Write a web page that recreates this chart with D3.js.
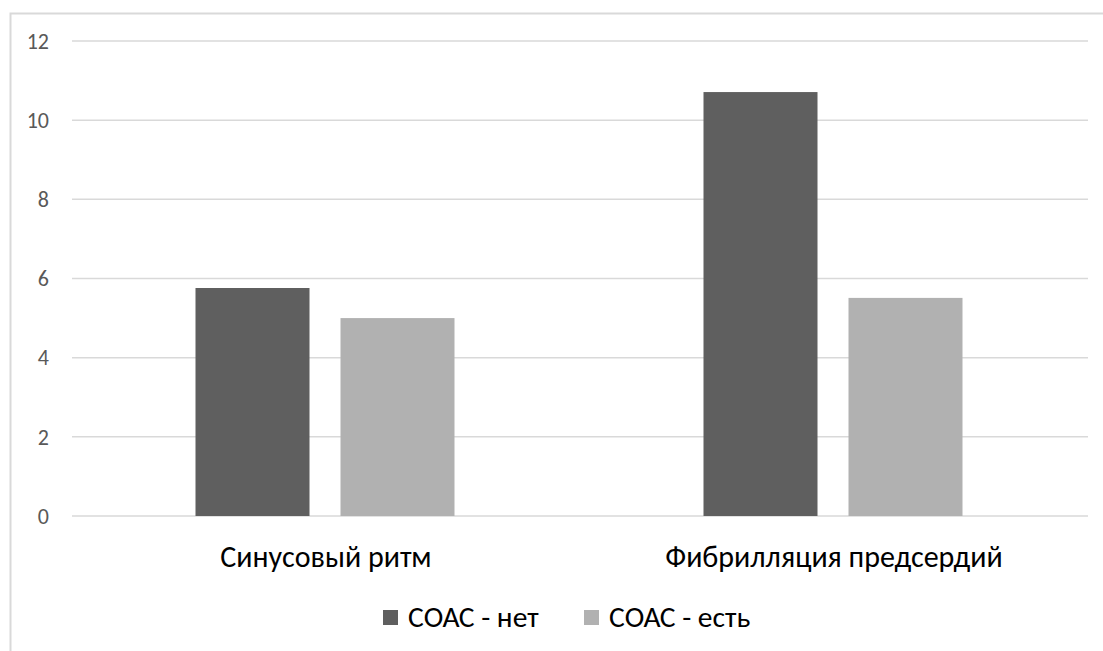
<!DOCTYPE html>
<html><head><meta charset="utf-8">
<script src="https://cdn.jsdelivr.net/npm/d3@7/dist/d3.min.js"></script>
<style>body{margin:0;background:#fff}</style>
</head><body>
<svg id="c" width="1103" height="651"></svg>
<script>
const categories = ["Синусовый ритм", "Фибрилляция предсердий"];
const seriesNames = ["СОАС - нет", "СОАС - есть"];
const seriesNo = [5.76, 10.71];
const seriesYes = [5.0, 5.51];
const yTicks = [0, 2, 4, 6, 8, 10, 12];
const colors = ["#5f5f5f", "#b1b1b1"];

const svg = d3.select("#c");
const font = "Carlito, 'Open Sans', 'Liberation Sans', sans-serif";

// outer border
svg.append("path").attr("d","M10.5,651 V13.5 H1103").attr("fill","none").attr("stroke","#d9d9d9").attr("stroke-width",2);

const pLeft = 72, pRight = 1088, pTop = 41, pBottom = 516;
const x = d3.scaleBand().domain(categories).range([pLeft, pRight]);
const y = d3.scaleLinear().domain([0, 12]).range([pBottom, pTop]);
const barW = 114, gap = 31;
const xs = d3.scaleBand().domain(seriesNames).range([0, barW*2+gap]).paddingInner(gap/(barW+gap));

// grid
svg.append("g").selectAll("line").data(yTicks).join("line")
  .attr("x1", pLeft).attr("x2", pRight)
  .attr("y1", d=>y(d)).attr("y2", d=>y(d))
  .attr("stroke","#d9d9d9").attr("stroke-width",1.5);

// y labels
svg.append("g").selectAll("text").data(yTicks).join("text")
  .attr("x", 49).attr("y", d=>y(d)).attr("dy","0.35em")
  .attr("text-anchor","end").attr("font-family",font).attr("font-size",22).attr("fill","#595959")
  .text(d=>d);

const data = categories.map((c,i)=>({c, vals:[seriesNo[i], seriesYes[i]]}));
const groupW = barW*2+gap;
const g = svg.append("g").selectAll("g").data(data).join("g")
  .attr("transform", d=>`translate(${x(d.c)+x.bandwidth()/2-groupW/2-1},0)`);
g.selectAll("rect").data(d=>d.vals.map((v,j)=>({v, s:seriesNames[j], j}))).join("rect")
  .attr("x", d=>xs(d.s)).attr("width", xs.bandwidth())
  .attr("y", d=>y(d.v)).attr("height", d=>y(0)-y(d.v))
  .attr("fill", d=>colors[d.j]);

// category labels
svg.append("g").selectAll("text").data(categories).join("text")
  .attr("x", d=>x(d)+x.bandwidth()/2).attr("y", 567)
  .attr("text-anchor","middle").attr("font-family",font).attr("font-size",30).attr("fill","#000")
  .text(d=>d);

// legend
const leg = [{s:seriesNames[0], x:383, c:colors[0]},{s:seriesNames[1], x:584, c:colors[1]}];
const lg = svg.append("g").selectAll("g").data(leg).join("g").attr("transform", d=>`translate(${d.x},0)`);
lg.append("rect").attr("x",0).attr("y",610).attr("width",15).attr("height",15).attr("fill",d=>d.c);
lg.append("text").attr("x",25).attr("y",627)
  .attr("font-family",font).attr("font-size",29.5).attr("fill","#000").text(d=>d.s);
</script>
</body></html>
